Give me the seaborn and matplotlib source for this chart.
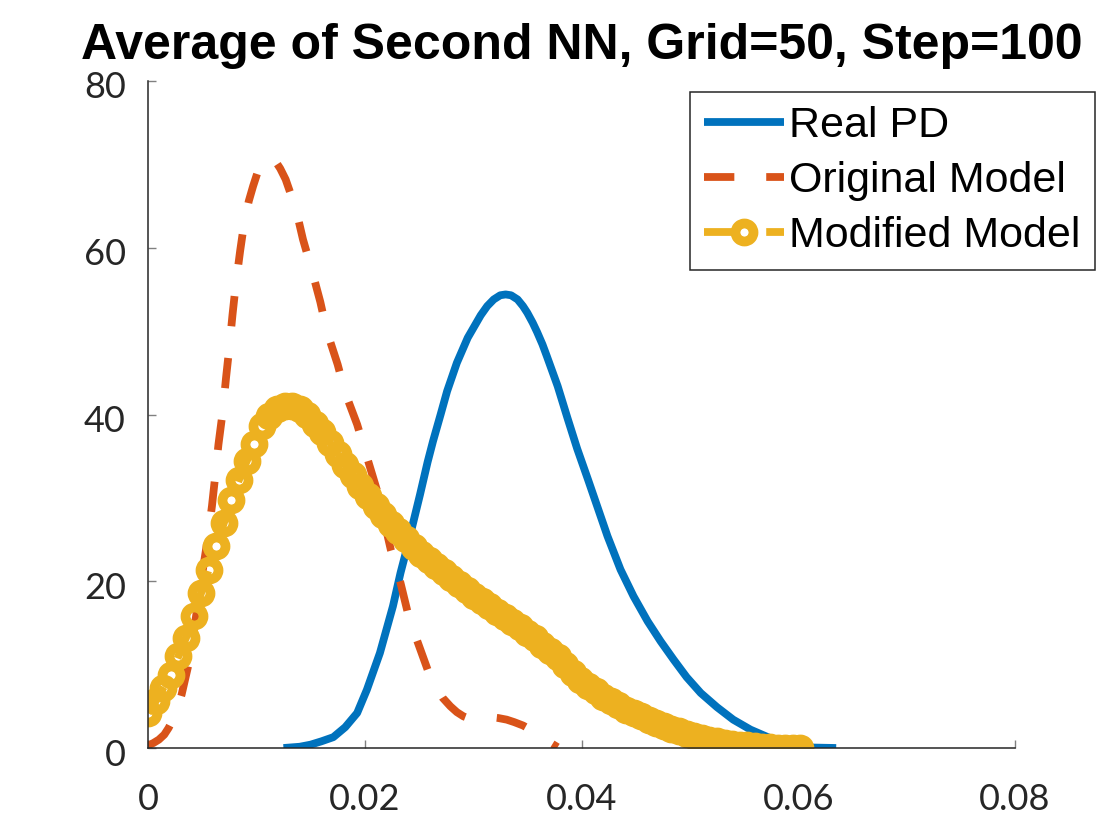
import numpy as np
import pandas as pd
import matplotlib
matplotlib.use("Agg")
import matplotlib.pyplot as plt
import matplotlib.transforms as mtransforms
import seaborn as sns

# ---------------- data ----------------
real_x = [0.0125, 0.0140, 0.0150, 0.0160, 0.0171, 0.0182, 0.0193, 0.0202, 0.0214,
          0.0226, 0.0233, 0.0239, 0.0245, 0.0251, 0.0258, 0.0263, 0.0270, 0.0276,
          0.0285, 0.0295, 0.0307, 0.0313, 0.0319, 0.0325, 0.0330, 0.0335, 0.0341,
          0.0346, 0.0350, 0.0355, 0.0359, 0.0364, 0.0368, 0.0373, 0.0378, 0.0387,
          0.0396, 0.0406, 0.0415, 0.0424, 0.0436, 0.0448, 0.0461, 0.0473, 0.0485,
          0.0497, 0.0510, 0.0525, 0.0540, 0.0556, 0.0572, 0.0586, 0.0600, 0.0615,
          0.0635]
real_y = [0.0, 0.15, 0.4, 0.8, 1.3, 2.5, 4.2, 7.0, 11.4,
          17.0, 21.0, 24.0, 27.2, 30.4, 34.3, 36.8, 40.0, 42.8,
          46.2, 49.2, 51.9, 53.0, 53.8, 54.3, 54.4, 54.3, 53.8,
          53.0, 52.2, 51.0, 49.9, 48.4, 47.0, 45.2, 43.4, 39.6,
          35.9, 32.2, 28.8, 25.4, 21.4, 18.2, 15.2, 12.8, 10.6,
          8.5, 6.6, 4.9, 3.4, 2.2, 1.3, 0.6, 0.15, 0.05,
          0.0]

orig_x = [0.0000, 0.0005, 0.0010, 0.0015, 0.0019, 0.0026, 0.0031, 0.0037, 0.0044,
          0.0051, 0.0055, 0.0059, 0.0062, 0.0065, 0.0069, 0.0072, 0.0075, 0.0078,
          0.0081, 0.0085, 0.0089, 0.0093, 0.0097, 0.0101, 0.0106, 0.0110, 0.0114,
          0.0118, 0.0122, 0.0127, 0.0131, 0.0136, 0.0143, 0.0151, 0.0159, 0.0165,
          0.0175, 0.0182, 0.0193, 0.0199, 0.0212, 0.0224, 0.0233, 0.0242, 0.0248,
          0.0258, 0.0265, 0.0272, 0.0279, 0.0285, 0.0291, 0.0297, 0.0303, 0.0309,
          0.0316, 0.0323, 0.0331, 0.0338, 0.0346, 0.0353, 0.0360, 0.0367, 0.0373,
          0.0378]
orig_y = [0.3, 0.6, 1.0, 1.6, 2.4, 4.2, 6.4, 9.8, 15.5,
          21.7, 25.0, 29.0, 32.6, 36.4, 40.4, 44.4, 48.0, 52.0,
          55.6, 59.6, 63.2, 65.6, 67.4, 69.0, 70.2, 70.7, 70.8,
          70.3, 69.5, 68.2, 66.7, 64.9, 61.0, 57.4, 53.5, 50.0,
          46.0, 42.6, 38.8, 36.2, 30.6, 23.8, 19.8, 15.0, 13.0,
          9.4, 7.5, 6.0, 5.0, 4.3, 3.8, 3.5, 3.5, 3.6,
          3.7, 3.6, 3.4, 3.1, 2.7, 2.2, 1.6, 1.0, 0.5,
          0.1]

mod_step = 0.0007
mod_y = [4.2, 5.6, 7.2, 8.8, 11.0, 13.2, 15.8, 18.6, 21.4, 24.2,
         27.0, 29.7, 32.2, 34.4, 36.5, 38.6, 39.8, 40.6, 41.0, 41.0,
         40.7, 39.9, 38.9, 37.9, 36.6, 35.3, 34.0, 32.7, 31.4, 30.2,
         29.0, 27.9, 26.9, 26.0, 25.1, 24.1, 23.3, 22.6, 21.8, 21.1,
         20.4, 19.7, 19.0, 18.2, 17.6, 17.0, 16.3, 15.7, 15.1, 14.5,
         13.8, 13.2, 12.4, 11.6, 10.9, 10.0, 9.0, 8.1, 7.4, 6.8,
         6.1, 5.6, 5.1, 4.6, 4.2, 3.8, 3.4, 3.0, 2.6, 2.3,
         2.0, 1.7, 1.4, 1.2, 1.0, 0.8, 0.65, 0.5, 0.4, 0.3,
         0.2, 0.12, 0.07, 0.04, 0.02, 0.01, 0.0]
mod_x = [i * mod_step for i in range(len(mod_y))]

labels = ["Real PD", "Original Model", "Modified Model"]
colors = ["#0072BD", "#D95319", "#EDB120"]
xticks = [0, 0.02, 0.04, 0.06, 0.08]
xticklabels = ["0", "0.02", "0.04", "0.06", "0.08"]
yticks = [0, 20, 40, 60, 80]
title = "Average of Second NN, Grid=50, Step=100"

# ---------------- style ----------------
sns.set_theme(style="ticks")
plt.rcParams["font.family"] = ["Liberation Sans", "DejaVu Sans"]
plt.rcParams["lines.solid_capstyle"] = "butt"
plt.rcParams["lines.dash_capstyle"] = "butt"
plt.rcParams["lines.solid_joinstyle"] = "round"

fig = plt.figure(figsize=(11.2, 8.4), dpi=100)
ax = fig.add_axes([148 / 1120, 1 - 748 / 840, 867 / 1120, 667 / 840])

lw = 5.6
dash = (0, (3.9, 4.1))
msize = 13
mew = 7

sns.lineplot(x=real_x, y=real_y, ax=ax, color=colors[0], linewidth=lw,
             label=labels[0], sort=False)
sns.lineplot(x=orig_x, y=orig_y, ax=ax, color=colors[1], linewidth=lw,
             linestyle=dash, label=labels[1], sort=False)
sns.lineplot(x=mod_x, y=mod_y, ax=ax, color=colors[2], linewidth=lw,
             linestyle=dash, marker="o", markersize=msize,
             markerfacecolor="none", markeredgecolor=colors[2],
             markeredgewidth=mew, label=labels[2], sort=False)
for ln in ax.lines:
    ln.set_solid_joinstyle("round")
    ln.set_dash_joinstyle("round")
ax.lines[2].set_markersize(msize)
ax.lines[2].set_markeredgewidth(mew)

ax.set_xlim(0, 0.08)
ax.set_ylim(0, 80)
ax.set_xticks(xticks)
ax.set_xticklabels(xticklabels)
ax.set_yticks(yticks)
ax.set_xlabel("")
ax.set_ylabel("")

for s in ["top", "right"]:
    ax.spines[s].set_visible(False)
for s in ["left", "bottom"]:
    ax.spines[s].set_color("#262626")
    ax.spines[s].set_linewidth(1.1)

ax.tick_params(axis="both", direction="in", length=6, width=1.0,
               color="#808080", labelcolor="#262626", labelsize=26)
ax.tick_params(axis="x", pad=25)
ax.tick_params(axis="y", pad=16)
for lab in ax.get_xticklabels() + ax.get_yticklabels():
    lab.set_fontfamily(["Lato", "DejaVu Sans"])

# y tick labels sit slightly below their ticks in the reference
shift = mtransforms.ScaledTranslation(0, -4 / 100, fig.dpi_scale_trans)
for tk in ax.yaxis.get_major_ticks():
    tk.label1.set_transform(tk.label1.get_transform() + shift)

ax.set_title(title, fontsize=36, fontweight="bold",
             family=["Liberation Sans Narrow", "Liberation Sans", "DejaVu Sans"],
             color="black", pad=16)

leg = ax.legend(loc="upper left", bbox_to_anchor=(690 / 1120, 1 - 92 / 840),
                bbox_transform=fig.transFigure, fontsize=31, frameon=True,
                fancybox=False, shadow=False, framealpha=1,
                handlelength=1.87, handletextpad=0.12, labelspacing=0.35,
                borderpad=0.32, borderaxespad=0, labelcolor="black")
leg.get_frame().set_edgecolor("#262626")
leg.get_frame().set_linewidth(1.1)

fig.savefig("out.png", dpi=100, facecolor="white")
